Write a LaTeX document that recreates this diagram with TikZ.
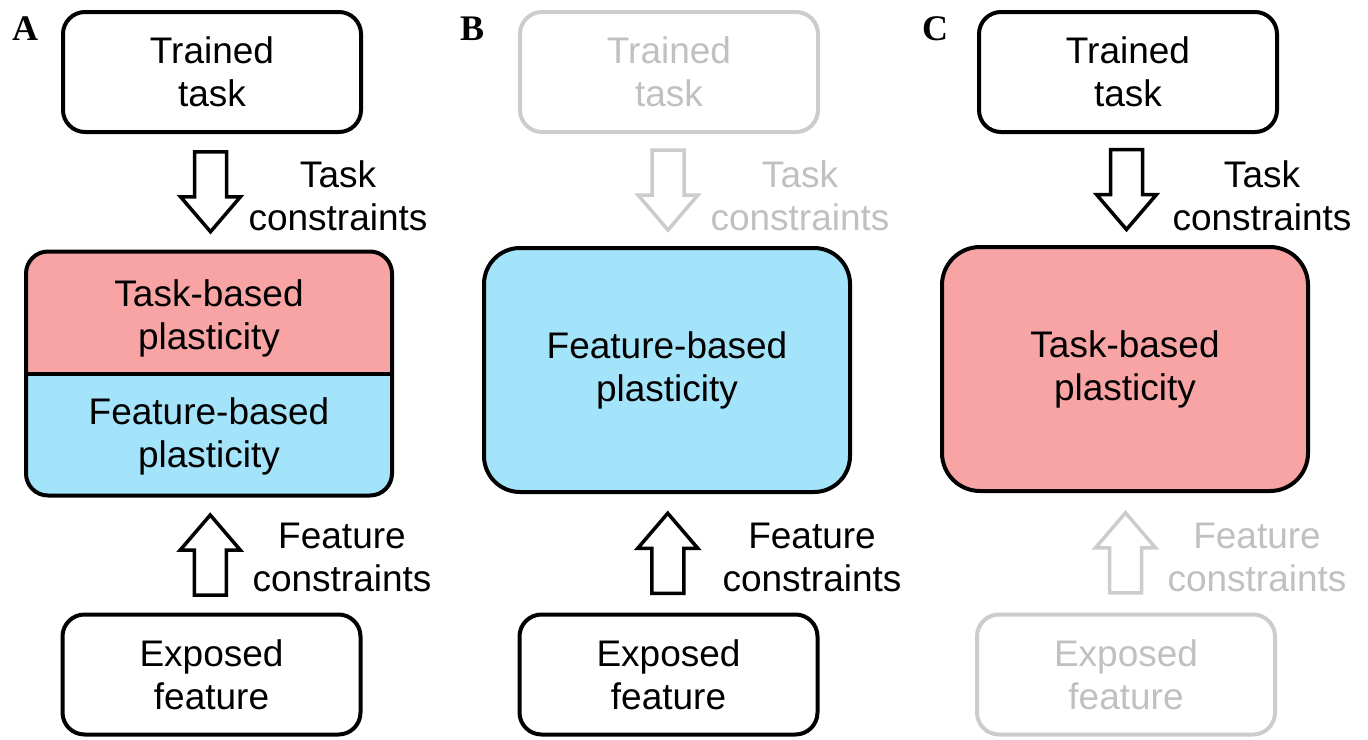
\documentclass[tikz,border=0pt]{standalone}
\usepackage{fontspec}
\setmainfont{Liberation Sans}
\newfontfamily\labelfont{Liberation Serif}
\usetikzlibrary{calc}
\definecolor{pinkfill}{RGB}{248,164,164}
\definecolor{bluefill}{RGB}{164,228,250}
\definecolor{faded}{RGB}{204,204,204}
\definecolor{fadedtext}{RGB}{192,192,192}
\newcommand{\downarrowat}[2]{%
  \draw[hollow,#2] (#1) ++(-16,-40) -- ++(32,0) -- ++(0,45) -- ++(14,0) -- ++(-30,35) -- ++(-30,-35) -- ++(14,0) -- cycle;}
\newcommand{\uparrowat}[2]{%
  \draw[hollow,#2] (#1) ++(-16,40) -- ++(32,0) -- ++(0,-45) -- ++(14,0) -- ++(-30,-35) -- ++(-30,35) -- ++(14,0) -- cycle;}
\begin{document}
\begin{tikzpicture}[x=1pt,y=-1pt,
  every node/.style={font=\fontsize{37}{43}\selectfont, align=center, inner sep=0pt},
  smallbox/.style={draw, line width=4pt, rounded corners=22pt, minimum width=298pt, minimum height=120pt},
  bigbox/.style={draw, line width=4pt, minimum width=366pt, minimum height=244pt},
  hollow/.style={draw, line width=3.5pt, fill=white, line join=miter},
  panellabel/.style={font=\labelfont\bfseries\fontsize{36}{40}\selectfont},
  fadedbox/.style={draw=faded, text=fadedtext},
  fadedtxt/.style={text=fadedtext},
  fadedarrow/.style={draw=faded}]
\useasboundingbox (0,0) rectangle (1368,739);

% ---------- Panel A ----------
\node[panellabel] (labA) at (25,29) {A};
\node[smallbox] (trainA) at (212,72) {Trained\\task};
\node[bigbox, rounded corners=22pt, fill=bluefill,
  path picture={\fill[pinkfill, sharp corners] (path picture bounding box.north west) rectangle (path picture bounding box.east);
                \draw[line width=4pt, sharp corners] (path picture bounding box.west) -- (path picture bounding box.east);}]
  (midA) at (209,373.5) {};
\node (taskplA) at (209,318) {Task-based\\plasticity};
\node (featplA) at (209,436) {Feature-based\\plasticity};
\node[smallbox] (expA) at (211.5,674.5) {Exposed\\feature};
\coordinate (arrAdown) at ($(trainA.south)!0.5!(midA.north)$);
\coordinate (arrAup) at ($(midA.south)!0.5!(expA.north)$);
\downarrowat{arrAdown}{}
\uparrowat{arrAup}{}
\node (tcA) at (338,196) {Task\\constraints};
\node (fcA) at (342,557) {Feature\\constraints};

% ---------- Panel B ----------
\node[panellabel] (labB) at (472,29) {B};
\node[smallbox, fadedbox] (trainB) at (669,72) {Trained\\task};
\node[bigbox, rounded corners=36pt, fill=bluefill] (midB) at (667,370) {Feature-based\\plasticity};
\node[smallbox] (expB) at (668.5,674.5) {Exposed\\feature};
\coordinate (arrBdown) at ($(trainB.south)!0.5!(midB.north)$);
\coordinate (arrBup) at ($(midB.south)!0.5!(expB.north)$);
\downarrowat{arrBdown}{fadedarrow}
\uparrowat{arrBup}{}
\node[fadedtxt] (tcB) at (800,196) {Task\\constraints};
\node (fcB) at (812,557) {Feature\\constraints};

% ---------- Panel C ----------
\node[panellabel] (labC) at (935,29) {C};
\node[smallbox] (trainC) at (1128,72) {Trained\\task};
\node[bigbox, rounded corners=38pt, fill=pinkfill] (midC) at (1125,369) {Task-based\\plasticity};
\node[smallbox, fadedbox] (expC) at (1126,674.5) {Exposed\\feature};
\coordinate (arrCdown) at ($(trainC.south)!0.5!(midC.north)$);
\coordinate (arrCup) at ($(midC.south)!0.5!(expC.north)$);
\downarrowat{arrCdown}{}
\uparrowat{arrCup}{fadedarrow}
\node (tcC) at (1262,196) {Task\\constraints};
\node[fadedtxt] (fcC) at (1257,557) {Feature\\constraints};
\end{tikzpicture}
\end{document}
